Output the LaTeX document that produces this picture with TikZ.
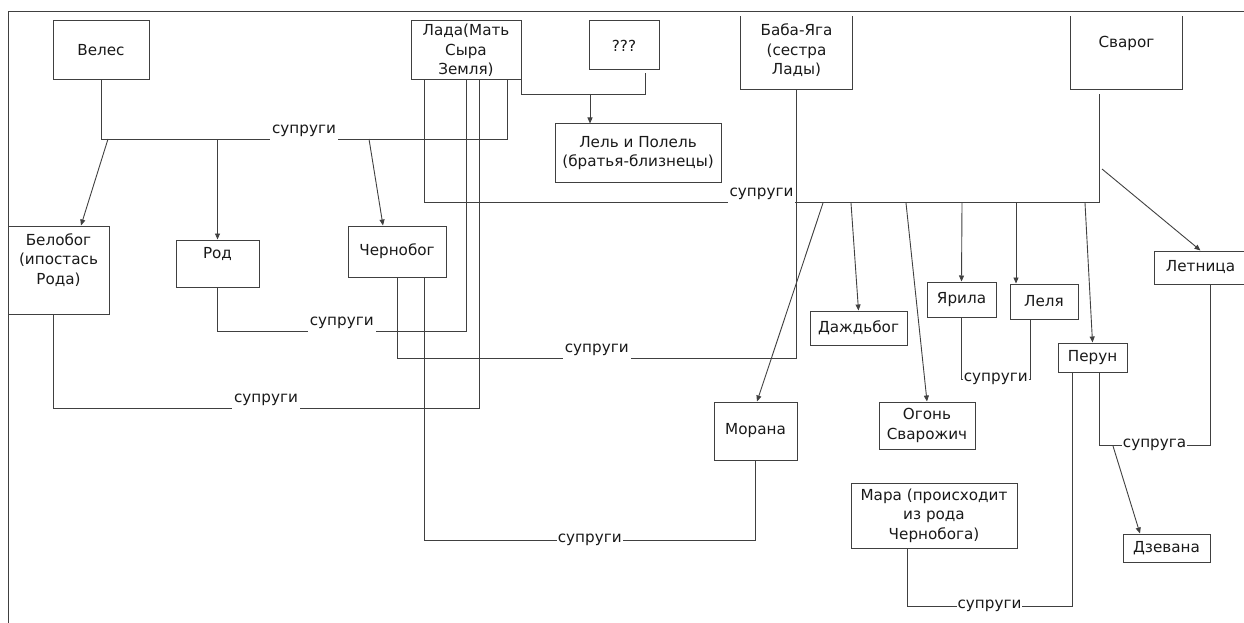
\documentclass[tikz,border=0pt]{standalone}
\usepackage{fontspec}
\setmainfont{DejaVu Sans}
\usetikzlibrary{arrows.meta}

\begin{document}
\begin{tikzpicture}
	[x=1pt, y=-1pt,
		containsText/.style	={font=\fontsize{15.2}{19.5}\selectfont
									, text=black!90
									},
		block/.style		={rectangle
									, containsText
									, draw=black!75
									, line width=1pt
									, align=center
									, inner sep=0pt
									},
		openblock/.style	={block
									, draw=none
									},
		line/.style			={draw=black!75
									, line width=0.9pt
									},
		arrow/.style		={line
									, -{Triangle[length=6pt,width=5pt]}
									},
		spouse/.style		={containsText
									, fill=white
									, inner xsep=2pt
									, inner ysep=4pt
									, anchor=base
									, yshift=6pt
									},
		spouseOn/.style	={containsText
									, fill=white
									, inner sep=1pt
									}
	]
\useasboundingbox (0,0) rectangle (1244,623);
\draw [line] (1244,11) -- (8,11) -- (8,623);

	% row 1
	\node [block, minimum width=96pt, minimum height=59pt] (veles)		at (101,50.5)	{Велес};
	\node [block, minimum width=110pt, minimum height=59pt] (lada)	at (466,50.5)	{Лада(Мать\\Сыра\\Земля)};
	\node [block, minimum width=70pt, minimum height=49pt] (qqq)		at (624,45.5)	{???};
	\node [openblock, minimum width=111pt, text height=58pt, text depth=14pt] (baba) at (796.5,53) {Баба-Яга\\(сестра\\Лады)};
	\node [openblock, minimum width=111pt, text height=31pt, text depth=41pt] (svarog) at (1126.5,53) {Сварог};
	\node [block, minimum width=166pt, minimum height=58pt] (lel)		at (638,153)	{Лель и Полель\\(братья-близнецы)};
	% row 2
	\node [block, minimum width=101pt, text height=58pt, text depth=30pt] (belobog) at (58.5,270) {Белобог\\(ипостась\\Рода)};
	\node [block, minimum width=83pt, text height=18pt, text depth=29pt] (rod) at (217.5,263.5) {Род};
	\node [block, minimum width=98pt, minimum height=51pt] (chernobog)	at (397,251.5)	{Чернобог};
	\node [block, minimum width=93pt, minimum height=33pt] (letnica)	at (1200.5,267.5) {Летница};
	\node [block, minimum width=69pt, minimum height=35pt] (yarila)	at (961.5,299.5) {Ярила};
	\node [block, minimum width=68pt, minimum height=35pt] (lelya)		at (1044,301.5)	{Леля};
	\node [block, minimum width=97pt, minimum height=34pt] (dazhdbog)	at (858.5,328)	{Даждьбог};
	\node [block, minimum width=69pt, minimum height=29pt] (perun)		at (1092.5,357.5) {Перун};
	% row 3
	\node [block, minimum width=83pt, minimum height=58pt] (morana)	at (755.5,431)	{Морана};
	\node [block, minimum width=96pt, minimum height=47pt] (ogon)		at (927,425.5)	{Огонь\\Сварожич};
	\node [block, minimum width=166pt, minimum height=65pt] (mara)		at (934,515.5)	{Мара (происходит\\из рода\\Чернобога)};
	\node [block, minimum width=87pt, minimum height=28pt] (dzevana)	at (1166.5,548) {Дзевана};

\foreach \n in {baba, svarog}
	\draw [line, line width=1pt] (\n.north west) |- (\n.south east) -- (\n.north east);

	% bends of the lines
	\coordinate (vl)	at (507,139);
	\coordinate (lsl)	at (424,202);
	\coordinate (ls)	at (1099,202);
	\coordinate (rl)	at (466,331);
	\coordinate (bl)	at (479,408);
	\coordinate (cb)	at (796.5,358);
	\coordinate (cm)	at (424,540);
	\coordinate (mp)	at (907,606);
	\coordinate (mp2)	at (1072,606);
	\coordinate (pl)	at (1099,445);
	\coordinate (pl2)	at (1210,445);
	\coordinate (yl)	at (1030,379);
	\coordinate (qt)	at (645,94);
	\coordinate (lt)	at (590,94);
	% arrow starts
	\coordinate (vb)	at (108,139);
	\coordinate (vc)	at (369,139);
	\coordinate (sm)	at (823,203);
	\coordinate (sd)	at (851,203);
	\coordinate (so)	at (906,203);
	\coordinate (sj)	at (962,203);
	\coordinate (sl)	at (1016,203);
	\coordinate (sp)	at (1085,203);
	\coordinate (st)	at (1102,169);
	\coordinate (pd)	at (1113,446);

\begin{scope}[every path/.style=line]

	\path	(veles.south)		|- node [spouse, pos=0.75] {супруги} (vl) -- (vl |- lada.south);
	\path	[shorten >=5pt]	(lsl |- lada.south) -- (lsl) -- node [spouse] {супруги} (ls) -- (ls |- svarog.south);
	\path	(rod.south)			|- node [spouse, pos=0.75] {супруги} (rl) -- (rl |- lada.south);
	\path	([xshift=-5.5pt]belobog.south) |- node [spouse, pos=0.75] {супруги} (bl) -- (bl |- lada.south);
	\path	(chernobog.south)	|- node [spouse, pos=0.75] {супруги} (cb) -- (baba.south);
	\path	(cm |- chernobog.south) -- (cm) -- node [spouseOn] {супруги} (cm -| morana.south) -- (morana.south);
	\path	(mp |- mara.south)	-- (mp) -- node [spouseOn] {супруги} (mp2) -- (mp2 |- perun.south);
	\path	(pl |- perun.south)	-- (pl) -- node [spouseOn] {супруга} (pl2) -- (pl2 |- letnica.south);
	\path	(yarila.south)		|- node [spouseOn, pos=0.75] {супруги} (yl) -- (yl |- lelya.south);
	\path	[shorten >=3pt]	(lada.south east) |- (qt) -- (qt |- qqq.south);

	\path	[arrow]	(lt)				-- (lt |- lel.north);
	\path	[arrow]	(vb)				-- ([xshift=22.5pt]belobog.north);
	\path	[arrow]	(rod.north |- vl)	-- (rod.north);
	\path	[arrow]	(vc)				-- ([xshift=-14pt]chernobog.north);
	\path	[arrow]	(sm)				-- ([xshift=1.5pt]morana.north);
	\path	[arrow]	(sd)				-- (dazhdbog.north);
	\path	[arrow]	(so)				-- (ogon.north);
	\path	[arrow]	(sj)				-- (yarila.north);
	\path	[arrow]	(sl)				-- ([xshift=-28pt]lelya.north);
	\path	[arrow]	(sp)				-- (perun.north);
	\path	[arrow]	(st)				-- (letnica.north);
	\path	[arrow]	(pd)				-- ([xshift=-26.5pt]dzevana.north);
\end{scope}
\end{tikzpicture}
\end{document}
